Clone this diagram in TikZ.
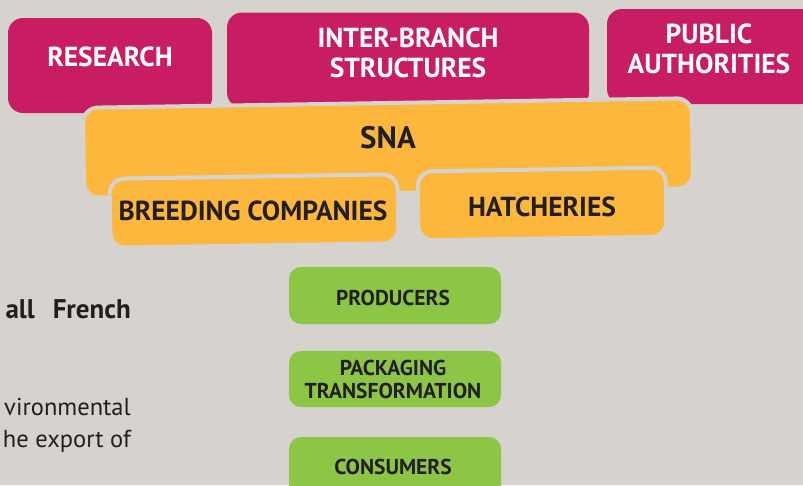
\documentclass[tikz,border=0pt]{standalone}
\usepackage{fontspec}
\setmainfont{PT Sans}
\definecolor{bgc}{HTML}{D6D2CE}
\definecolor{pinkc}{HTML}{C81D63}
\definecolor{orangec}{HTML}{FDB73C}
\definecolor{greenc}{HTML}{8DC645}
\definecolor{darkc}{HTML}{231F20}
\begin{document}
\begin{tikzpicture}[x=1pt,y=-1pt,
  box/.style={inner sep=0pt, outer sep=0pt, anchor=center},
  pinkbox/.style={box, fill=pinkc, rounded corners=15pt},
  orangebox/.style={box, fill=orangec, draw=bgc, line width=4pt, rounded corners=15pt, rotate=0.9},
  greenbox/.style={box, fill=greenc, rounded corners=12pt, minimum width=212pt},
  whitetxt/.style={text=white, font=\bfseries\fontsize{27.5}{30}\selectfont, align=center, inner sep=0pt},
  darktxt/.style={text=darkc, font=\bfseries\fontsize{27.5}{30}\selectfont, align=center, inner sep=0pt},
  greentxt/.style={text=darkc, font=\bfseries\fontsize{21.5}{23.5}\selectfont, align=center, inner sep=0pt},
  sidetxt/.style={text=darkc, font=\fontsize{24.5}{29}\selectfont, anchor=base east, inner sep=0pt}
]
\fill[bgc] (0,0) rectangle (803,485);
\useasboundingbox (0,0) rectangle (803,485);

% pink boxes
\node[pinkbox, minimum width=204pt, minimum height=95pt] (research) at (110,65.5) {};
\node[pinkbox, minimum width=362pt, minimum height=95pt] (inter) at (408,60) {};
\node[pinkbox, minimum width=210pt, minimum height=95pt] (public) at (712,56.5) {};
\node[whitetxt] (researchT) at (110,57) {RESEARCH};
\node[whitetxt] (interT) at (408,53) {INTER-BRANCH\\STRUCTURES};
\node[whitetxt] (publicT) at (709,49) {PUBLIC\\AUTHORITIES};

% orange boxes
\node[orangebox, minimum width=609pt, minimum height=90pt] (sna) at (388,148) {};
\node[darktxt, font=\bfseries\fontsize{31}{34}\selectfont] (snaT) at (388,138) {SNA};
\node[orangebox, minimum width=288pt, minimum height=69pt] (breeding) at (254,211) {};
\node[orangebox, minimum width=248pt, minimum height=69pt] (hatch) at (542,204) {};
\node[darktxt] (breedingT) at (253,211) {BREEDING COMPANIES};
\node[darktxt] (hatchT) at (542,207) {HATCHERIES};

% green boxes
\node[greenbox, minimum height=57pt] (prod) at (395,295.5) {};
\node[greenbox, minimum height=56pt] (pack) at (395,379) {};
\node[greenbox, minimum height=70pt] (cons) at (395,472) {};
\node[greentxt] (prodT) at (393,298) {PRODUCERS};
\node[greentxt] (packT) at (393,379.5) {PACKAGING\\TRANSFORMATION};
\node[greentxt] (consT) at (393,467) {CONSUMERS};

% side text
\node[sidetxt, font=\bfseries\fontsize{27}{30}\selectfont] (side1) at (131,318) {all\hspace{18pt}French};
\node[sidetxt] (side2) at (131,415) {vironmental};
\node[sidetxt] (side3) at (131,447) {he export of};
\end{tikzpicture}
\end{document}
